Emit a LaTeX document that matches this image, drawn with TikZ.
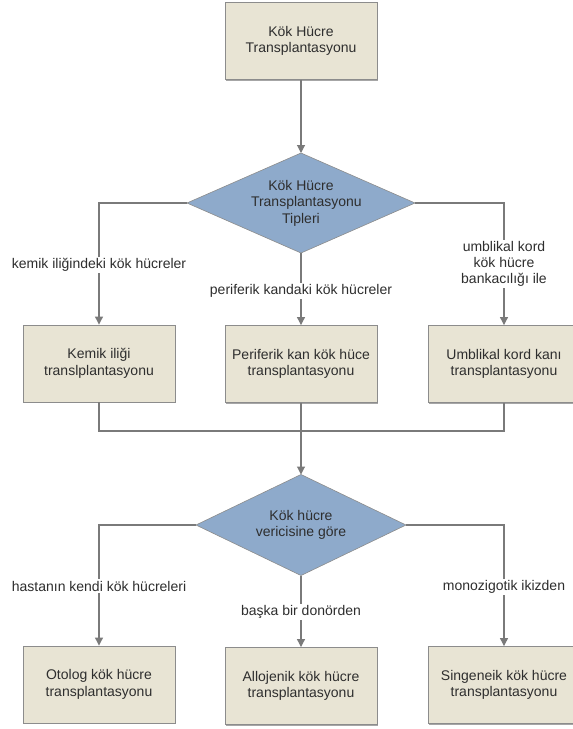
\documentclass[tikz,border=0pt]{standalone}
\usepackage{fontspec}
\setmainfont{Liberation Sans}
\usetikzlibrary{shapes.geometric,arrows.meta,shadows}
\definecolor{boxfill}{HTML}{E8E4D4}
\definecolor{boxline}{HTML}{8C8C8C}
\definecolor{dfill}{HTML}{8EAACB}
\definecolor{lnc}{HTML}{7A7A7A}
\definecolor{txt}{HTML}{2E2E2E}
\tikzset{
  x=1pt, y=-1pt,
  every node/.style={font=\fontsize{14}{16.5}\selectfont, text=txt},
  stepbox/.style={draw=boxline, line width=0.9pt, fill=boxfill, minimum width=152pt, minimum height=77pt, align=center, inner sep=2pt,
     drop shadow={shadow xshift=1.2pt, shadow yshift=-1.2pt, opacity=0.35, fill=black}},
  decide/.style={diamond, draw=boxline, line width=0.6pt, fill=dfill, align=center, inner sep=0pt, outer sep=0pt},
  conn/.style={draw=lnc, line width=1.1pt},
  arr/.style={conn, -{Triangle[width=8pt, length=8pt]}},
  lbl/.style={fill=white, align=center, inner sep=1.5pt}
}
\begin{document}
\begin{tikzpicture}
\useasboundingbox (0,0) rectangle (573,729);
\fill[white] (0,0) rectangle (573,729);

\node[stepbox] (top) at (301,41) {Kök Hücre\\Transplantasyonu};
\node[decide, shape aspect=2.4, minimum width=228pt, minimum height=100pt] (d1) at (301,203)
  {\parbox[c][38pt][c]{100pt}{\centering Kök Hücre\\Transplantasyonu\\Tipleri}};
\node[stepbox] (b1) at (99,363.5) {Kemik iliği\\translplantasyonu};
\node[stepbox] (b2) at (301,364) {Periferik kan kök hüce\\transplantasyonu};
\node[stepbox] (b3) at (504,364) {Umblikal kord kanı\\transplantasyonu};
\coordinate (m) at (301,431);
\node[decide, shape aspect=2.06, minimum width=210pt, minimum height=101pt] (d2) at (301,525)
  {Kök hücre\\vericisine göre};
\node[stepbox] (c1) at (99,684.5) {Otolog kök hücre\\transplantasyonu};
\node[stepbox] (c2) at (301,686) {Allojenik kök hücre\\transplantasyonu};
\node[stepbox] (c3) at (504,685) {Singeneik kök hücre\\transplantasyonu};

\draw[arr] (top.south) -- (d1.north);
\draw[arr] (d1.west) -| (b1.north);
\draw[arr] (d1.south) -- (b2.north);
\draw[arr] (d1.east) -| (b3.north);
\draw[conn] (b1.south) |- (m);
\draw[conn] (b3.south) |- (m);
\draw[arr] (b2.south) -- (d2.north);
\draw[arr] (d2.west) -| (c1.north);
\draw[arr] (d2.south) -- (c2.north);
\draw[arr] (d2.east) -| (c3.north);

\node[lbl] (l1) at (99,265) {kemik iliğindeki kök hücreler};
\node[lbl] (l2) at (301,291) {periferik kandaki kök hücreler};
\node[lbl, font=\fontsize{14}{16}\selectfont] (l3) at (504,264) {umblikal kord\\kök hücre\\bankacılığı ile};
\node[lbl] (l4) at (99,586) {hastanın kendi kök hücreleri};
\node[lbl] (l5) at (301,612) {başka bir donörden};
\node[lbl] (l6) at (504,587) {monozigotik ikizden};
\end{tikzpicture}
\end{document}
